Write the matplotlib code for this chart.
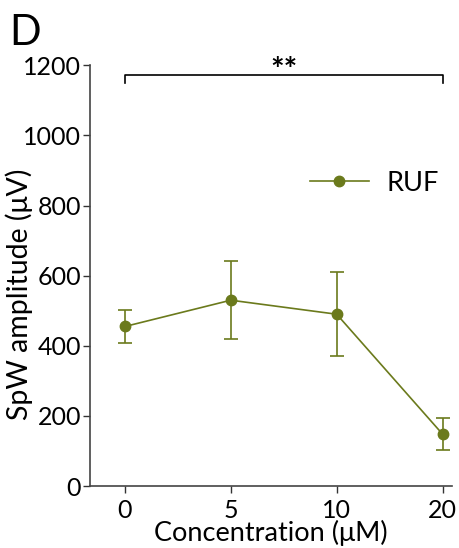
import numpy as np
import matplotlib
matplotlib.use('Agg')
import matplotlib.pyplot as plt

plt.rcParams['font.family'] = ['Lato', 'DejaVu Sans']

# RUF dose response, SpW amplitude
conc_labels = ['0', '5', '10', '20']
amplitude = [455, 530, 490, 148]
amp_err = [47, 111, 119, 45]
y_ticks = [0, 200, 400, 600, 800, 1000, 1200]

olive = '#6b7a1c'

fig = plt.figure(figsize=(4.59, 5.48), dpi=100)
ax = fig.add_axes([0.196, 0.113, 0.789, 0.768])

x = np.arange(len(conc_labels))
ax.errorbar(x, amplitude, yerr=amp_err, color=olive, lw=1.2, fmt='none',
            capsize=5, capthick=1.2, elinewidth=1.2)
ax.plot(x, amplitude, color=olive, lw=1.2, marker='o', markersize=7.5, label='RUF')

ax.set_xlim(-0.33, 3.09)
ax.set_ylim(0, 1200)
ax.set_xticks(x)
ax.set_xticklabels(conc_labels)
ax.set_yticks(y_ticks)
ax.tick_params(labelsize=18, length=5, width=1, color='#333333')
ax.tick_params(axis='y', pad=1.5)
ax.tick_params(axis='x', pad=4)

for s in ['top', 'right']:
    ax.spines[s].set_visible(False)
for s in ['left', 'bottom']:
    ax.spines[s].set_color('#444444')
    ax.spines[s].set_linewidth(1.2)

fig.text(0.042, 0.4635, 'SpW amplitude (\u03bcV)', fontsize=20.5, rotation=90,
         ha='center', va='center')
ax.set_xlabel('Concentration (\u03bcM)', fontsize=19.5, labelpad=-1)

# significance bracket between 0 and 20
ax.plot([0, 0, 3, 3], [1148, 1171, 1171, 1148], color='black', lw=1.2, clip_on=False)
ax.text(1.5, 1182, '**', ha='center', va='center', fontsize=23, fontweight='bold')

ax.legend(loc='upper right', bbox_to_anchor=(1.03, 0.807), frameon=False,
          fontsize=19.5, handlelength=2.2, handletextpad=0.63)

fig.text(0.02, 0.975, 'D', fontsize=30, ha='left', va='top')

fig.savefig('out.png', dpi=100)
